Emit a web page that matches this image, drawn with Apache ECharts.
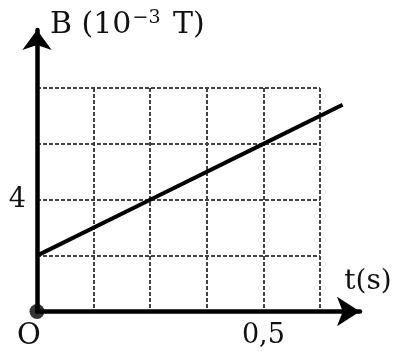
<!DOCTYPE html>
<html>
<head>
<meta charset="utf-8">
<script src="https://cdn.jsdelivr.net/npm/echarts@6/dist/echarts.min.js"></script>
<style>
html,body{margin:0;padding:0;background:#fff;}
#chart{width:397px;height:360px;}
</style>
</head>
<body>
<div id="chart"></div>
<script>
// Data
const timeS = [0, 0.25, 0.5, 0.675];      // t (s)
const fieldB = [2, 4, 6, 7.4];            // B (10^-3 T)
const tShownLabels = { '0.5': '0,5' };    // x tick labels shown
const bShownLabels = { '4': '4' };        // y tick labels shown
const yTitle = 'B (10{sup|−3} T)';
const xTitle = 't(s)';
const originLabel = 'O';

const FONT = "'DejaVu Serif', 'Liberation Serif', serif";
const gridDash = { type: [4, 2], color: '#444', width: 2 };

const chart = echarts.init(document.getElementById('chart'));
chart.setOption({
  animation: false,
  backgroundColor: '#fff',
  grid: [
    { left: 37, top: 88, width: 283, height: 223.5 },
    { left: 37, top: 30, width: 323, height: 281.5 }
  ],
  xAxis: [
    {
      gridIndex: 0, type: 'value', min: 0, max: 0.625, interval: 0.125,
      axisLine: { show: false }, axisTick: { show: false },
      axisLabel: {
        margin: 11, fontSize: 27, color: '#111', fontFamily: FONT,
        formatter: v => tShownLabels[String(v)] || ''
      },
      splitLine: { show: true, lineStyle: gridDash }
    },
    {
      gridIndex: 1, type: 'value', min: 0, max: 0.7134,
      axisLine: { show: true, lineStyle: { color: '#000', width: 4.5 }, symbol: ['none', 'arrow'], symbolSize: [22, 23] },
      axisTick: { show: false }, axisLabel: { show: false }, splitLine: { show: false }
    }
  ],
  yAxis: [
    {
      gridIndex: 0, type: 'value', min: 0, max: 8, interval: 2,
      axisLine: { show: false }, axisTick: { show: false },
      axisLabel: {
        margin: 11, fontSize: 27, color: '#111', fontFamily: FONT,
        formatter: v => bShownLabels[String(v)] || ''
      },
      splitLine: { show: true, lineStyle: gridDash }
    },
    {
      gridIndex: 1, type: 'value', min: 0, max: 10.076,
      axisLine: { show: true, lineStyle: { color: '#000', width: 4.5 }, symbol: ['none', 'arrow'], symbolSize: [22, 20] },
      axisTick: { show: false }, axisLabel: { show: false }, splitLine: { show: false }
    }
  ],
  series: [
    {
      type: 'line', xAxisIndex: 1, yAxisIndex: 1,
      data: timeS.map((t, i) => [t, fieldB[i]]),
      showSymbol: false, symbol: 'none',
      lineStyle: { color: '#000', width: 4 }, z: 5
    },
    {
      type: 'scatter', xAxisIndex: 1, yAxisIndex: 1, clip: false,
      data: [[0, 0]], symbolSize: 15, itemStyle: { color: '#000' }, z: 20
    }
  ],
  graphic: [
    {
      type: 'text', x: 50, y: 25, z: 30,
      style: {
        text: yTitle, fill: '#111', font: '30px ' + FONT,
        verticalAlign: 'middle', align: 'left',
        rich: { sup: { fontSize: 19, fontFamily: FONT, fill: '#111', verticalAlign: 'top', padding: [0, 3, 14, 1] } }
      }
    },
    {
      type: 'text', x: 368, y: 282, z: 30,
      style: { text: xTitle, fill: '#111', font: '28px ' + FONT, align: 'center', verticalAlign: 'middle' }
    },
    {
      type: 'text', x: 29, y: 336, z: 30,
      style: { text: originLabel, fill: '#111', font: '29px ' + FONT, align: 'center', verticalAlign: 'middle' }
    }
  ]
});
</script>
</body>
</html>
